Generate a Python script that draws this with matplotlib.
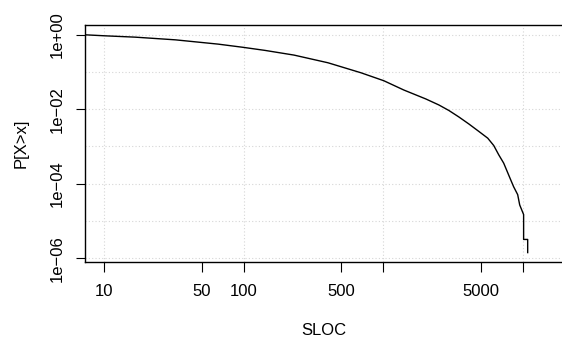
import matplotlib
matplotlib.use("Agg")
import matplotlib.pyplot as plt
from matplotlib.ticker import FixedLocator, FixedFormatter, NullFormatter

sloc = [7.35, 10.2, 16.7, 32.4, 65.6, 99, 142, 229, 401, 690, 1007, 1400,
        2014, 2494, 2941, 3467, 4085, 4818, 5585, 6166, 6696, 7266,
        8150, 8560, 9150, 9460, 10090, 10090, 10790, 10790]
prob = [0.99, 0.93, 0.857, 0.726, 0.557, 0.457, 0.378, 0.283, 0.176, 0.095,
        0.058, 0.0327, 0.0188, 0.013, 0.00925, 0.0062, 0.00403, 0.00254,
        0.00167, 0.00106, 5.97e-4, 3.57e-4, 1.28e-4, 8.3e-5, 5.1e-5, 2.7e-5,
        1.49e-5, 3.2e-6, 3.2e-6, 1.42e-6]

x_ticks = [10, 50, 100, 500, 1000, 5000, 10000]
x_labels = ["10", "50", "100", "500", "", "5000", ""]
x_grid = [10, 100, 1000, 10000]
y_ticks = [1e0, 1e-2, 1e-4, 1e-6]
y_labels = ["1e+00", "1e\u221202", "1e\u221204", "1e\u221206"]
y_grid = [1e0, 1e-1, 1e-2, 1e-3, 1e-4, 1e-5, 1e-6]

plt.rcParams['font.family'] = ['Liberation Sans', 'DejaVu Sans']
plt.rcParams['font.size'] = 12

fig = plt.figure(figsize=(5.62, 3.41), dpi=100)
ax = fig.add_axes([85 / 562, 1 - 262 / 341, 1 - 85 / 562, (262 - 25.3) / 341])
ax.set_xscale('log')
ax.set_yscale('log')
ax.set_xlim(7.3, 19000)
ax.set_ylim(10 ** -6.1, 10 ** 0.251)

grid_style = dict(color='#d6d6d6', linestyle=(0, (1, 2)), linewidth=0.8, zorder=0)
for g in x_grid:
    ax.axvline(g, **grid_style)
for g in y_grid:
    ax.axhline(g, **grid_style)

ax.plot(sloc, prob, color='black', linewidth=1.0, zorder=3)

ax.xaxis.set_major_locator(FixedLocator(x_ticks))
ax.xaxis.set_major_formatter(FixedFormatter(x_labels))
ax.xaxis.set_minor_locator(FixedLocator([]))
ax.xaxis.set_minor_formatter(NullFormatter())
ax.yaxis.set_major_locator(FixedLocator(y_ticks))
ax.yaxis.set_major_formatter(FixedFormatter(y_labels))
ax.yaxis.set_minor_locator(FixedLocator([]))
ax.yaxis.set_minor_formatter(NullFormatter())

ax.tick_params(axis='x', direction='out', length=7.2, width=0.8, pad=9)
ax.tick_params(axis='y', direction='out', length=6.5, width=0.8, pad=8)
for lab in ax.get_yticklabels():
    lab.set_rotation(90)
    lab.set_va('center')

ax.spines['right'].set_visible(False)
for s in ['left', 'top', 'bottom']:
    ax.spines[s].set_linewidth(1.0)

ax.set_xlabel('SLOC', labelpad=17)
ax.set_ylabel('P[X>x]', labelpad=15)

fig.savefig('out.png', dpi=100)
